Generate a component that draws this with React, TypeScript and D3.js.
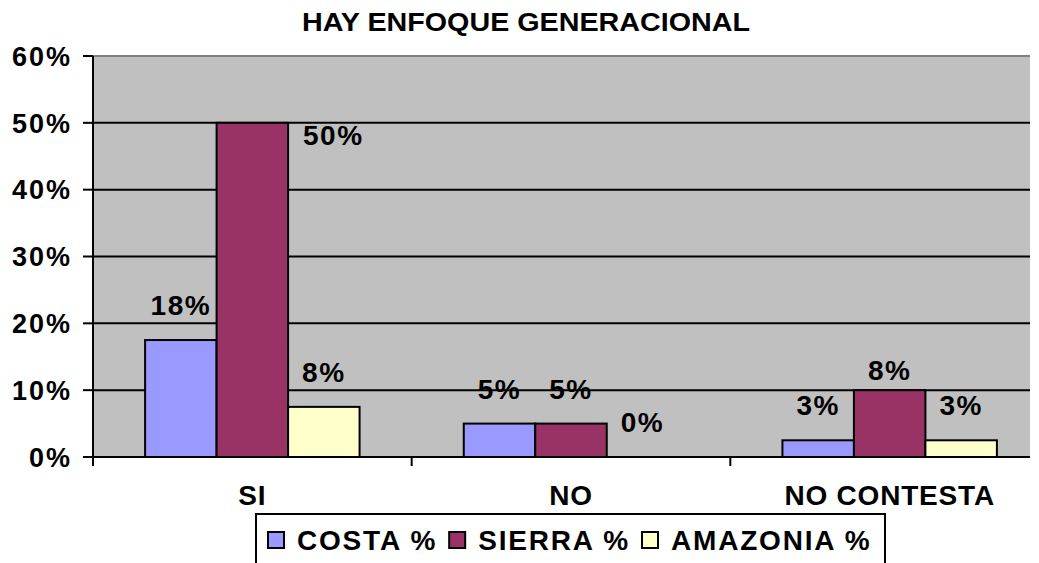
import * as d3 from 'd3';
import { useRef, useEffect } from 'react';

const categories = ['SI', 'NO', 'NO CONTESTA'];
const series = ['COSTA %', 'SIERRA %', 'AMAZONIA %'];
const colors = ['#9999FF', '#993366', '#FFFFCC'];
// bar heights (fractions)
const costa = [0.175, 0.05, 0.025];
const sierra = [0.5, 0.05, 0.1];
const amazonia = [0.075, 0, 0.025];
// data labels as printed on the picture
const costaLabels = ['18%', '5%', '3%'];
const sierraLabels = ['50%', '5%', '8%'];
const amazoniaLabels = ['8%', '0%', '3%'];
const yTicks = [0, 0.1, 0.2, 0.3, 0.4, 0.5, 0.6];

const W = 1039;
const H = 563;
const FONT = '"Liberation Sans", Arial, sans-serif';

export default function App() {
  const svgRef = useRef<SVGSVGElement>(null);

  useEffect(() => {
    document.body.style.margin = '0';
    const svg = d3.select(svgRef.current);
    svg.selectAll('*').remove();

    const left = 93, right = 1030, top = 56, bottom = 457;
    const values = [costa, sierra, amazonia];
    const labels = [costaLabels, sierraLabels, amazoniaLabels];

    const y = d3.scaleLinear().domain([0, 0.6]).range([bottom, top]);
    // category bands run a little past the visible plot edge (cropped in the source)
    const x0 = d3.scaleBand().domain(categories).range([left, 1049]).padding(0);
    const groupW = x0.bandwidth() * 0.673;
    const x1 = d3.scaleBand().domain(series).range([0, groupW]);

    // plot background
    svg.append('rect')
      .attr('x', left).attr('y', top)
      .attr('width', right - left).attr('height', bottom - top)
      .attr('fill', '#C0C0C0');

    // gridlines
    svg.selectAll('.grid')
      .data(yTicks.filter(t => t > 0))
      .join('line')
      .attr('x1', left).attr('x2', right)
      .attr('y1', d => y(d)).attr('y2', d => y(d))
      .attr('stroke', d => (d === 0.6 ? '#808080' : '#000'))
      .attr('stroke-width', 2);

    // bars
    const groups = svg.selectAll('.grp')
      .data(categories)
      .join('g')
      .attr('transform', c => `translate(${x0(c)! + (x0.bandwidth() - groupW) / 2},0)`);

    groups.selectAll('rect')
      .data((c, i) => series.map((s, j) => ({ s, j, v: values[j][i] })))
      .join('rect')
      .filter(d => d.v > 0)
      .attr('x', d => x1(d.s)!)
      .attr('y', d => y(d.v))
      .attr('width', x1.bandwidth())
      .attr('height', d => bottom - y(d.v))
      .attr('fill', d => colors[d.j])
      .attr('stroke', '#000')
      .attr('stroke-width', 2);

    // axes
    svg.append('line')
      .attr('x1', left).attr('x2', left).attr('y1', top).attr('y2', bottom + 2)
      .attr('stroke', '#000').attr('stroke-width', 2);
    svg.append('line')
      .attr('x1', left).attr('x2', right).attr('y1', bottom).attr('y2', bottom)
      .attr('stroke', '#000').attr('stroke-width', 2);

    svg.selectAll('.ytick')
      .data(yTicks)
      .join('line')
      .attr('x1', left - 10).attr('x2', left)
      .attr('y1', d => y(d)).attr('y2', d => y(d))
      .attr('stroke', '#000').attr('stroke-width', 2);

    svg.selectAll('.ylab')
      .data(yTicks)
      .join('text')
      .attr('x', 72)
      .attr('y', d => y(d))
      .attr('dy', '0.36em')
      .attr('text-anchor', 'end')
      .style('font-family', FONT)
      .style('font-weight', 'bold')
      .style('font-size', '27px')
      .style('letter-spacing', '2px')
      .text(d => d3.format('.0%')(d));

    // category separators
    svg.selectAll('.xtick')
      .data(categories)
      .join('line')
      .attr('x1', c => x0(c)!).attr('x2', c => x0(c)!)
      .attr('y1', bottom).attr('y2', bottom + 9)
      .attr('stroke', '#000').attr('stroke-width', 2);

    svg.selectAll('.xlab')
      .data(categories)
      .join('text')
      .attr('x', c => x0(c)! + x0.bandwidth() / 2)
      .attr('y', 505)
      .attr('text-anchor', 'middle')
      .style('font-family', FONT)
      .style('font-weight', 'bold')
      .style('font-size', '28px')
      .style('letter-spacing', '0.8px')
      .text(c => c);

    // data labels, mostly 25px above the bar; two were moved in the source
    const nudge: Record<string, [number, number]> = {
      'SI|SIERRA %': [81, 47],
      'NO CONTESTA|SIERRA %': [0, 15],
    };
    const labelData = categories.flatMap((c, i) =>
      series.map((s, j) => ({ c, s, v: values[j][i], t: labels[j][i] }))
    );
    svg.selectAll('.dlab')
      .data(labelData)
      .join('text')
      .attr('x', d => x0(d.c)! + (x0.bandwidth() - groupW) / 2 + x1(d.s)! + x1.bandwidth() / 2 + (nudge[d.c + '|' + d.s]?.[0] ?? 0))
      .attr('y', d => y(d.v) - 25 + (nudge[d.c + '|' + d.s]?.[1] ?? 0))
      .attr('text-anchor', 'middle')
      .style('font-family', FONT)
      .style('font-weight', 'bold')
      .style('font-size', '28px')
      .style('letter-spacing', '1.5px')
      .text(d => d.t);

    // title
    svg.append('text')
      .attr('x', 526).attr('y', 31)
      .attr('text-anchor', 'middle')
      .style('font-family', FONT)
      .style('font-weight', 'bold')
      .style('font-size', '26px')
      .attr('textLength', 448)
      .attr('lengthAdjust', 'spacingAndGlyphs')
      .text('HAY ENFOQUE GENERACIONAL');

    // legend
    const lg = svg.append('g');
    lg.append('rect')
      .attr('x', 256).attr('y', 514)
      .attr('width', 629).attr('height', 70)
      .attr('fill', '#fff')
      .attr('stroke', '#000').attr('stroke-width', 2);
    let lx = 268;
    series.forEach((s, j) => {
      lg.append('rect')
        .attr('x', lx).attr('y', 532)
        .attr('width', 16).attr('height', 16)
        .attr('fill', colors[j])
        .attr('stroke', '#000').attr('stroke-width', 2);
      const t = lg.append('text')
        .attr('x', lx + 29).attr('y', 550)
        .style('font-family', FONT)
        .style('font-weight', 'bold')
        .style('font-size', '28px')
        .style('letter-spacing', '1.8px')
        .text(s);
      const w = (t.node() as SVGTextElement).getComputedTextLength();
      lx += 29 + w + 12;
    });
  }, []);

  return <svg ref={svgRef} width={W} height={H} style={{ display: 'block', background: '#fff' }} />;
}
